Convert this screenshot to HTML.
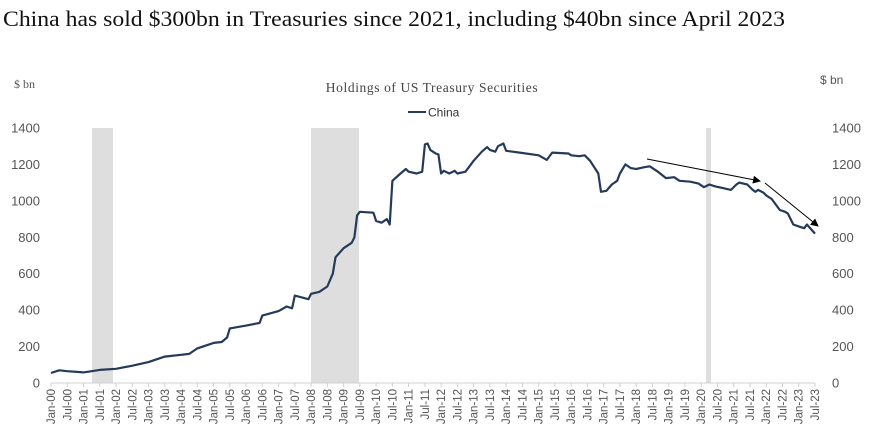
<!DOCTYPE html>
<html><head><meta charset="utf-8"><style>
html,body{margin:0;padding:0;background:#fff;}
svg{display:block;}
</style></head><body>
<svg id="s" width="876" height="440" xmlns="http://www.w3.org/2000/svg">
<text x="3" y="26" font-family="Liberation Serif, serif" font-size="22" textLength="782" lengthAdjust="spacingAndGlyphs" fill="#111">China has sold $300bn in Treasuries since 2021, including $40bn since April 2023</text>
<text x="432" y="92" text-anchor="middle" font-family="Liberation Serif, serif" font-size="13.5" letter-spacing="0.6" fill="#444">Holdings of US Treasury Securities</text>
<line x1="408" y1="112" x2="426" y2="112" stroke="#253a5a" stroke-width="2"/>
<text x="428" y="116.5" font-family="Liberation Sans, sans-serif" font-size="12" fill="#333">China</text>
<text x="14" y="88" font-family="Liberation Serif, serif" font-size="12" fill="#555">$ bn</text>
<text x="820" y="84" font-family="Liberation Sans, sans-serif" font-size="12" fill="#555">$ bn</text>
<rect x="92" y="128" width="21" height="255" fill="#dedede"/>
<rect x="311" y="128" width="48" height="255" fill="#dedede"/>
<rect x="706" y="128" width="5" height="255" fill="#dedede"/>
<g id="yl" font-family="Liberation Sans, sans-serif" font-size="13" fill="#555"></g>
<line x1="51" y1="383" x2="815" y2="383" stroke="#d0d0d0" stroke-width="1"/>
<g id="ticks" stroke="#d0d0d0" stroke-width="1"></g>
<g id="xl" font-family="Liberation Sans, sans-serif" font-size="11.5" fill="#555"></g>
<polyline id="ln" fill="none" stroke="#253a5a" stroke-width="2.2" stroke-linejoin="round"/>
<defs><marker id="ah" markerWidth="8" markerHeight="8" refX="7" refY="4" orient="auto" markerUnits="userSpaceOnUse"><path d="M0,0 L8,4 L0,8 z" fill="#000"/></marker></defs>
<line x1="647" y1="159" x2="760" y2="181" stroke="#000" stroke-width="1" marker-end="url(#ah)"/>
<line x1="765" y1="183" x2="818" y2="226" stroke="#000" stroke-width="1" marker-end="url(#ah)"/>
</svg>
<script>
var NS="http://www.w3.org/2000/svg";
function X(m){return 51+m*(764/282);}
function Y(v){return 383-v*(255/1400);}
function el(p,t,a,txt){var e=document.createElementNS(NS,t);for(var k in a)e.setAttribute(k,a[k]);if(txt!==undefined)e.textContent=txt;document.getElementById(p).appendChild(e);}
for(var v=0;v<=1400;v+=200){
 el("yl","text",{x:40,y:Y(v)+4.5,"text-anchor":"end"},v);
 el("yl","text",{x:832,y:Y(v)+4.5},v);
}
for(var m=0;m<=282;m+=6){
 var x=X(m);
 el("ticks","line",{x1:x,y1:383,x2:x,y2:387});
 var yr=String(m/12|0).padStart(2,"0");
 var lab=(m%12==0?"Jan-":"Jul-")+yr;
 el("xl","text",{x:0,y:0,"text-anchor":"end",transform:"translate("+(x+4)+",389) rotate(-90)"},lab);
}
var d=[["00-01",55],["00-04",70],["00-07",65],["01-01",58],["01-07",72],["02-01",78],["02-07",95],["03-01",115],["03-07",145],["04-01",155],["04-04",160],["04-07",190],["05-01",220],["05-04",225],["05-06",250],["05-07",300],["06-01",315],["06-06",330],["06-07",370],["07-01",395],["07-04",420],["07-06",410],["07-07",480],["07-12",460],["08-01",490],["08-04",500],["08-07",530],["08-09",600],["08-10",690],["09-01",740],["09-04",770],["09-05",800],["09-06",920],["09-07",940],["09-12",935],["10-01",890],["10-03",880],["10-05",900],["10-06",870],["10-07",1110],["10-10",1150],["10-12",1175],["11-01",1160],["11-04",1150],["11-06",1160],["11-07",1310],["11-08",1315],["11-09",1280],["11-11",1260],["11-12",1255],["12-01",1150],["12-02",1165],["12-04",1150],["12-06",1165],["12-07",1150],["12-10",1160],["13-01",1220],["13-04",1270],["13-06",1295],["13-07",1280],["13-09",1270],["13-10",1300],["13-12",1315],["14-01",1275],["14-06",1265],["15-01",1250],["15-04",1225],["15-06",1265],["15-12",1260],["16-01",1250],["16-04",1245],["16-06",1250],["16-08",1220],["16-11",1150],["16-12",1050],["17-02",1055],["17-04",1090],["17-06",1110],["17-07",1150],["17-09",1200],["17-11",1180],["18-01",1175],["18-04",1185],["18-06",1190],["18-09",1160],["18-12",1125],["19-03",1130],["19-05",1110],["19-09",1105],["19-12",1095],["20-02",1075],["20-04",1090],["20-06",1080],["20-09",1070],["20-12",1060],["21-02",1090],["21-03",1100],["21-06",1090],["21-08",1060],["21-09",1050],["21-10",1060],["21-12",1045],["22-01",1030],["22-03",1010],["22-06",950],["22-08",940],["22-09",930],["22-11",870],["23-01",860],["23-03",850],["23-04",870],["23-07",820]];
var pts=d.map(function(p){var a=p[0].split("-");var m=(+a[0])*12+(+a[1])-1;return X(m).toFixed(1)+","+Y(p[1]).toFixed(1);}).join(" ");
document.getElementById("ln").setAttribute("points",pts);
</script>
</body></html>
